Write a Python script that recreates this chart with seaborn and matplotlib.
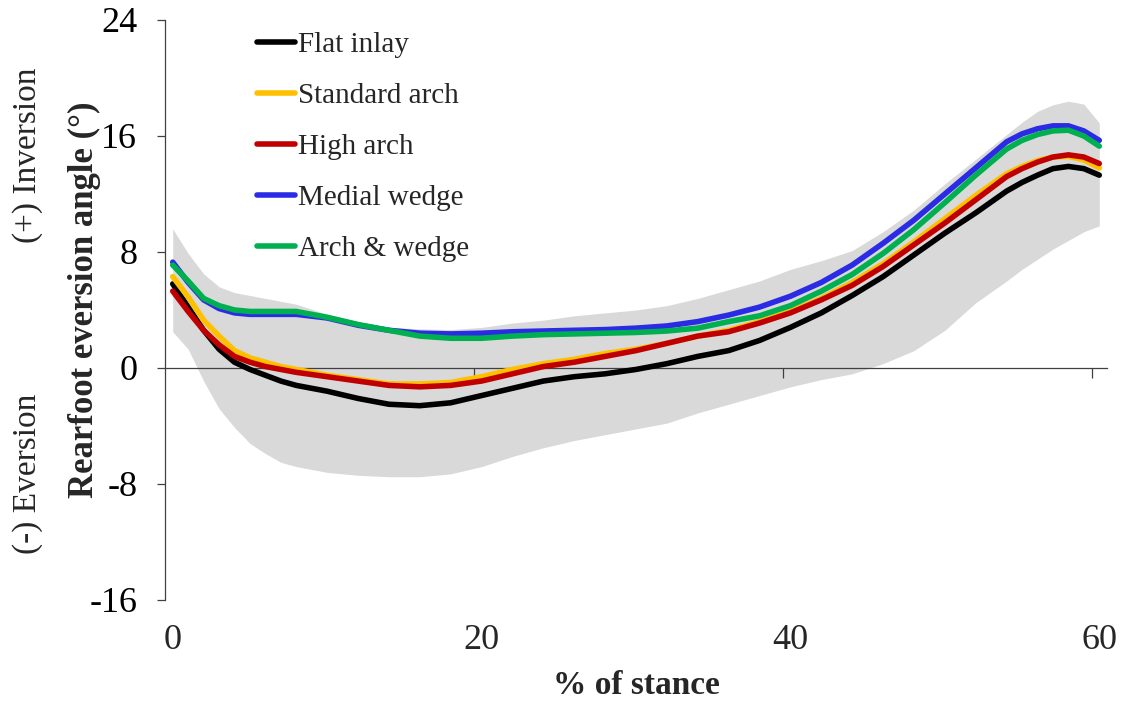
import numpy as np
import pandas as pd
import matplotlib
matplotlib.use("Agg")
import matplotlib.pyplot as plt
import seaborn as sns

# ---------------- data ----------------
stance = [0, 1, 2, 3, 4, 5, 6, 7, 8, 10, 12, 14, 16, 18, 20, 22, 24, 26, 28, 30,
          32, 34, 36, 38, 40, 42, 44, 46, 48, 50, 52, 54, 55, 56, 57, 58, 59, 60]
flat_inlay = [5.8, 4.2, 2.6, 1.3, 0.4, -0.1, -0.5, -0.9, -1.2, -1.6, -2.1, -2.5, -2.6, -2.4,
              -1.9, -1.4, -0.9, -0.6, -0.4, -0.1, 0.3, 0.8, 1.2, 1.9, 2.8, 3.8, 5.0, 6.3,
              7.8, 9.3, 10.7, 12.2, 12.8, 13.3, 13.75, 13.9, 13.75, 13.3]
standard_arch = [6.3, 4.9, 3.3, 2.2, 1.2, 0.7, 0.4, 0.1, -0.1, -0.5, -0.8, -1.1, -1.1, -1.0,
                 -0.6, -0.1, 0.3, 0.6, 1.0, 1.3, 1.7, 2.2, 2.6, 3.2, 3.9, 4.8, 5.9, 7.2,
                 8.7, 10.3, 11.9, 13.4, 13.9, 14.3, 14.55, 14.6, 14.35, 13.8]
high_arch = [5.3, 3.9, 2.6, 1.6, 0.8, 0.4, 0.1, -0.1, -0.3, -0.6, -0.9, -1.2, -1.3, -1.2,
             -0.9, -0.4, 0.1, 0.4, 0.8, 1.2, 1.7, 2.2, 2.5, 3.1, 3.8, 4.7, 5.7, 7.0,
             8.5, 10.0, 11.6, 13.2, 13.75, 14.2, 14.55, 14.7, 14.55, 14.1]
medial_wedge = [7.3, 5.9, 4.7, 4.1, 3.8, 3.7, 3.7, 3.7, 3.7, 3.45, 2.95, 2.6, 2.4, 2.35,
                2.4, 2.5, 2.55, 2.6, 2.65, 2.75, 2.9, 3.2, 3.65, 4.2, 4.95, 5.9, 7.1, 8.6,
                10.2, 12.0, 13.8, 15.6, 16.15, 16.5, 16.7, 16.7, 16.35, 15.7]
arch_wedge = [7.1, 6.0, 4.8, 4.3, 4.0, 3.9, 3.9, 3.9, 3.9, 3.5, 3.0, 2.6, 2.2, 2.05,
              2.05, 2.2, 2.3, 2.35, 2.4, 2.45, 2.55, 2.75, 3.2, 3.6, 4.3, 5.3, 6.45, 7.9,
              9.55, 11.4, 13.3, 15.1, 15.7, 16.1, 16.35, 16.4, 16.0, 15.3]
sd_upper = [9.6, 7.9, 6.5, 5.6, 5.2, 5.0, 4.8, 4.6, 4.4, 3.7, 3.2, 2.8, 2.7, 2.65,
            2.8, 3.1, 3.3, 3.6, 3.8, 4.0, 4.3, 4.8, 5.4, 6.0, 6.8, 7.4, 8.1, 9.4,
            10.9, 12.7, 14.4, 16.1, 16.95, 17.7, 18.15, 18.4, 18.2, 16.9]
sd_lower = [2.5, 1.3, -0.9, -2.8, -4.1, -5.2, -5.9, -6.5, -6.8, -7.2, -7.4, -7.5, -7.5, -7.3,
            -6.8, -6.1, -5.5, -5.0, -4.6, -4.2, -3.8, -3.1, -2.5, -1.9, -1.3, -0.8, -0.4, 0.3,
            1.2, 2.6, 4.5, 6.0, 6.8, 7.5, 8.2, 8.8, 9.4, 9.8]

conditions = ["Flat inlay", "Standard arch", "High arch", "Medial wedge", "Arch & wedge"]
series = [flat_inlay, standard_arch, high_arch, medial_wedge, arch_wedge]
colors = ["#000000", "#FFC000", "#C00000", "#2B2BE6", "#00B050"]

x_tick_labels = [0, 20, 40, 60]
y_ticks = [-16, -8, 0, 8, 16, 24]

df = pd.concat(
    [pd.DataFrame({"stance": stance, "angle": vals, "condition": name})
     for name, vals in zip(conditions, series)],
    ignore_index=True,
)

# ---------------- style ----------------
sns.set_theme(style="white")
plt.rcParams["font.family"] = ["Liberation Serif", "DejaVu Serif"]
plt.rcParams["axes.unicode_minus"] = False

fig = plt.figure(figsize=(11.25, 7.08), dpi=100)
ax = fig.add_axes([165 / 1125, 108 / 708, 942 / 1125, 580 / 708])
ax.set_axisbelow(False)

ax.fill_between(stance, sd_lower, sd_upper, color="#D9D9D9", linewidth=0, zorder=0.3)

sns.lineplot(data=df, x="stance", y="angle", hue="condition", hue_order=conditions,
             palette=colors, linewidth=4, ax=ax, zorder=3, legend=True)

ax.set_xlim(-0.5, 60.5)
ax.set_ylim(-16, 24)

# y axis
ax.set_yticks(y_ticks)
ax.tick_params(axis="y", direction="out", length=6, width=0.9, color="#404040",
               labelsize=26, pad=14, left=True, labelcolor="black")
ax.spines["left"].set_color("#404040")
ax.spines["left"].set_linewidth(0.9)
ax.spines["top"].set_visible(False)
ax.spines["right"].set_visible(False)

# x axis line at zero with category tick marks
ax.spines["bottom"].set_position(("data", 0))
ax.spines["bottom"].set_color("#404040")
ax.spines["bottom"].set_linewidth(0.9)
ax.set_xticks([t - 0.5 for t in x_tick_labels[1:]])
ax.tick_params(axis="x", direction="out", length=7, width=0.9, color="#404040",
               labelbottom=False, bottom=True)
ax.set_xlabel("")
ax.set_ylabel("")

# x tick labels at the bottom of the plot area
sec = ax.secondary_xaxis("bottom")
sec.set_xticks(x_tick_labels)
sec.set_xticklabels([str(v) for v in x_tick_labels])
sec.tick_params(length=0, labelsize=26, pad=17)
sec.spines["bottom"].set_visible(False)
sec.set_xlabel("% of stance", fontsize=24, fontweight="bold", labelpad=10)

# y labels
fig.text(84 / 1125, 1 - 300 / 708, "Rearfoot eversion angle (°)", rotation=90,
         ha="center", va="center", fontsize=25, fontweight="bold")
fig.text(28 / 1125, 1 - 155 / 708, "(+) Inversion", rotation=90,
         ha="center", va="center", fontsize=24)
fig.text(28 / 1125, 1 - 474 / 708, "(-) Eversion", rotation=90,
         ha="center", va="center", fontsize=24)

# legend
handles, labels = ax.get_legend_handles_labels()
leg = ax.legend(handles, labels, loc="upper left", bbox_to_anchor=(257 / 1125, 1 - 32 / 708),
                bbox_transform=fig.transFigure, frameon=False, fontsize=21,
                handlelength=1.3, handletextpad=0.1, labelspacing=0.84, borderpad=0,
                borderaxespad=0)
for line in leg.get_lines():
    line.set_linewidth(4)

fig.savefig("out.png", dpi=100)
